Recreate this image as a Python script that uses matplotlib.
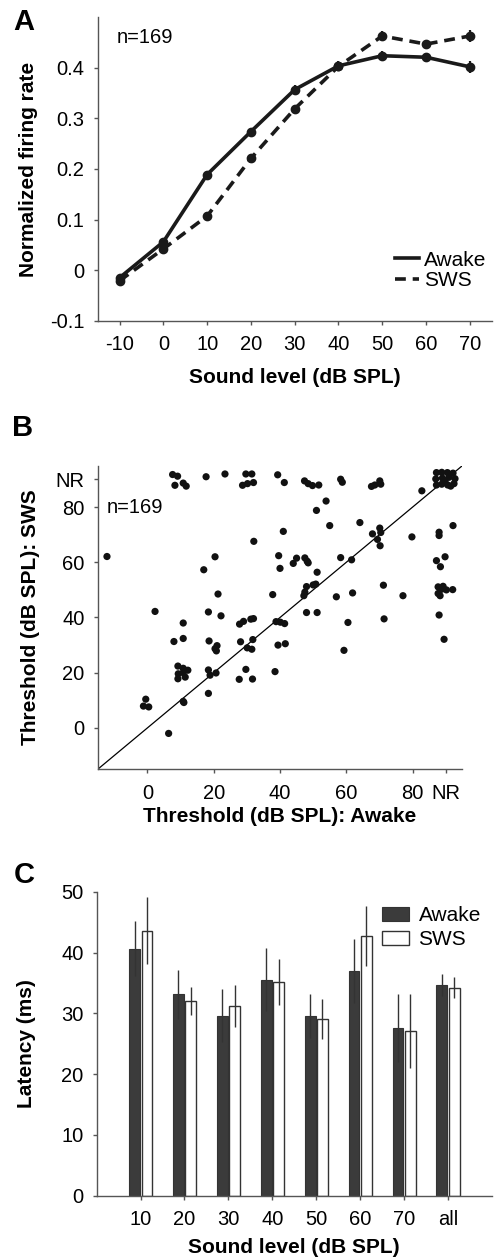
import numpy as np
import matplotlib
matplotlib.use('Agg')
import matplotlib.pyplot as plt
from matplotlib.lines import Line2D

plt.rcParams['font.family'] = ['Liberation Sans', 'DejaVu Sans']

# panel A : rate-level functions
levels = [-10, 0, 10, 20, 30, 40, 50, 60, 70]
awake_rate = [-0.015, 0.056, 0.189, 0.274, 0.357, 0.404, 0.424, 0.421, 0.402]
awake_rate_err = [0.006, 0.006, 0.008, 0.008, 0.009, 0.009, 0.009, 0.009, 0.012]
sws_rate = [-0.021, 0.042, 0.107, 0.221, 0.319, 0.403, 0.463, 0.447, 0.463]
sws_rate_err = [0.006, 0.006, 0.007, 0.008, 0.008, 0.009, 0.009, 0.009, 0.012]

# panel B : thresholds (90 = NR, points jittered as in the figure)
thr_awake = [7.6, 9.1, 8.3, 10.8, 11.7, 17.7, 23.4, 29.7, 31.5, 28.7, 30.2, 32.0,
             39.3, 41.3, 47.4, 48.5, 49.8, 51.7, 58.3, 58.8, 67.6, 68.6, 70.1, 70.4, 82.8,
             87.2, 88.8, 90.5, 92.2, 87.0, 89.0, 91.0, 92.8, 87.2, 88.8, 90.6, 92.5, 89.8, 91.5,
             -12.2, 32.1, 41.0, 20.4, 17.0, 39.6, 40.0, 21.3, 37.8, 53.9, 51.0, 55.0, 64.1,
             67.9, 70.1, 70.4, 69.4, 70.2, 79.8, 88.0, 88.0, 92.2, 45.0, 44.0, 47.5, 48.2,
             48.5, 51.2, 58.3, 61.6, 87.2, 88.4, 89.8, 48.0, 50.0, 50.8, 47.5, 47.2, 57.0,
             61.9, 71.2, 77.1, 87.7, 89.2, 88.7, 87.7, 88.3, 90.2, 92.1, 48.0, 51.2, 60.5,
             71.4, 88.0, 2.3, 18.4, 22.2, 27.8, 29.0, 31.2, 32.0, 38.8, 40.1, 41.4, 10.8,
             8.0, 10.8, 18.6, 21.0, 20.4, 20.8, 28.1, 31.8, 30.1, 31.5, 39.4, 41.6, 59.3,
             89.5, 9.2, 10.8, 12.2, 9.3, 10.8, 9.2, 11.4, 18.4, 20.7, 18.9, 18.4, 10.8,
             11.0, -0.5, -1.2, 0.4, 6.4, 27.7, 31.7, 29.7, 38.5]
thr_sws = [91.8, 91.2, 87.9, 88.7, 87.6, 91.0, 92.0, 92.0, 92.0, 87.9, 88.5, 88.9,
           91.7, 88.9, 89.5, 88.5, 87.8, 88.0, 90.1, 89.0, 87.5, 88.0, 89.5, 88.3, 85.9,
           92.5, 92.6, 92.5, 92.3, 90.2, 90.5, 90.8, 90.3, 88.0, 88.3, 88.0, 88.5, 89.5, 87.6,
           62.1, 67.6, 71.2, 62.0, 57.3, 62.4, 57.8, 48.5, 48.3, 82.2, 78.8, 73.3, 74.4,
           70.3, 72.4, 70.8, 68.3, 66.0, 69.2, 70.9, 69.7, 73.3, 61.5, 59.6, 61.6, 60.4,
           59.8, 56.4, 61.7, 60.9, 60.6, 58.4, 62.0, 51.2, 51.8, 52.1, 49.2, 47.9, 47.5,
           48.9, 51.7, 47.9, 51.1, 51.3, 50.2, 48.7, 47.9, 50.0, 50.1, 41.8, 41.8, 38.2,
           39.5, 40.9, 42.2, 42.0, 40.6, 37.6, 38.6, 39.4, 39.6, 38.5, 38.3, 37.8, 38.0,
           31.3, 32.4, 31.5, 29.8, 28.7, 27.9, 31.2, 32.0, 29.0, 28.5, 30.0, 30.5, 28.1,
           32.1, 22.4, 21.6, 20.9, 19.6, 20.0, 17.8, 18.4, 21.0, 19.9, 19.1, 12.5, 9.6,
           9.2, 10.4, 7.9, 7.6, -2.0, 17.6, 17.7, 21.2, 20.4]

# panel C : latency
lat_labels = ['10', '20', '30', '40', '50', '60', '70', 'all']
lat_awake = [40.6, 33.1, 29.6, 35.5, 29.6, 37.0, 27.6, 34.6]
lat_awake_err = [4.5, 4.0, 4.4, 5.2, 3.6, 5.3, 5.6, 1.8]
lat_sws = [43.6, 32.1, 31.2, 35.1, 29.1, 42.7, 27.1, 34.2]
lat_sws_err = [5.5, 2.3, 3.4, 3.8, 3.3, 4.9, 6.1, 1.7]

W, H = 495, 1257
fig = plt.figure(figsize=(W / 100, H / 100), dpi=100)

TICK = 14.5
LEG = 15
LAB = 15
LETTER = 21
SPINE = '#555555'


def style(ax):
    for s in ['top', 'right']:
        ax.spines[s].set_visible(False)
    for s in ['left', 'bottom']:
        ax.spines[s].set_color(SPINE)
        ax.spines[s].set_linewidth(1.0)
    ax.tick_params(labelsize=TICK, length=3, width=1, color=SPINE)
    ax.tick_params(axis='x', pad=7.5)
    ax.tick_params(axis='y', pad=6.5)


# ---- A
axA = fig.add_axes([97.7 / W, 1 - 320.7 / H, 394 / W, 303.4 / H])
style(axA)
dash = (0, (3.0, 1.9))
axA.errorbar(levels, awake_rate, yerr=awake_rate_err, color='#1a1a1a', lw=2.6,
             marker='o', ms=6, elinewidth=1.6, capsize=0)
axA.errorbar(levels, sws_rate, yerr=sws_rate_err, color='#1a1a1a', lw=2.6,
             ls=dash, marker='o', ms=6, elinewidth=1.6, capsize=0)
axA.set_xlim(-15, 75)
axA.set_ylim(-0.1, 0.5)
axA.set_xticks(levels)
axA.set_yticks([-0.1, 0, 0.1, 0.2, 0.3, 0.4])
axA.set_yticklabels(['-0.1', '0', '0.1', '0.2', '0.3', '0.4'])
axA.set_xticklabels([str(v) for v in levels])
axA.set_xlabel('Sound level (dB SPL)', fontsize=LAB, fontweight='bold', labelpad=10)
axA.set_ylabel('Normalized firing rate', fontsize=LAB, fontweight='bold', labelpad=9)
axA.text(0.049, 0.935, 'n=169', transform=axA.transAxes, fontsize=TICK,
         va='center', ha='left')
axA.text(-0.215, 0.983, 'A', transform=axA.transAxes, fontsize=LETTER, fontweight='bold',
         va='center', ha='left')
handles = [Line2D([], [], color='#1a1a1a', lw=2.6),
           Line2D([], [], color='#1a1a1a', lw=2.6, ls=dash)]
axA.legend(handles, ['Awake', 'SWS'], loc='lower right', bbox_to_anchor=(1.035, 0.04),
           frameon=False, fontsize=LEG, handlelength=1.15, handletextpad=0.25,
           labelspacing=0.05)

# ---- B
axB = fig.add_axes([97.7 / W, 1 - 769.3 / H, 364.6 / W, 303.6 / H])
style(axB)
axB.plot([-15, 95], [-15, 95], color='black', lw=0.9)
axB.scatter(thr_awake, thr_sws, s=27, color='#111111', edgecolors='none', zorder=3)
axB.set_xlim(-15, 95)
axB.set_ylim(-15, 95)
axB.set_xticks([0, 20, 40, 60, 80, 90])
axB.set_xticklabels(['0', '20', '40', '60', '80', 'NR'])
axB.set_yticks([0, 20, 40, 60, 80, 90])
axB.set_yticklabels(['0', '20', '40', '60', '80', 'NR'])
axB.set_xlabel('Threshold (dB SPL): Awake', fontsize=LAB, fontweight='bold', labelpad=3)
axB.set_ylabel('Threshold (dB SPL): SWS', fontsize=LAB, fontweight='bold', labelpad=11)
axB.text(0.025, 80, 'n=169', transform=axB.get_yaxis_transform(), fontsize=TICK,
         va='center', ha='left')
axB.text(-0.235, 1.124, 'B', transform=axB.transAxes, fontsize=LETTER, fontweight='bold',
         va='center', ha='left')

# ---- C
axC = fig.add_axes([96.7 / W, 1 - 1195.7 / H, 395 / W, 304 / H])
style(axC)
xc = np.arange(len(lat_labels))
bw = 0.245
axC.bar(xc - 0.137, lat_awake, bw, color='#3b3b3b', edgecolor='#333333', lw=0.8,
        label='Awake')
axC.bar(xc + 0.144, lat_sws, bw, color='white', edgecolor='#333333', lw=1.0,
        label='SWS')
axC.errorbar(xc - 0.137, lat_awake, yerr=lat_awake_err, fmt='none', ecolor='#333333',
             elinewidth=1.0, capsize=0)
axC.errorbar(xc + 0.144, lat_sws, yerr=lat_sws_err, fmt='none', ecolor='#333333',
             elinewidth=1.0, capsize=0)
axC.set_xlim(-1, 8)
axC.set_ylim(0, 50)
axC.set_xticks(xc)
axC.set_xticklabels(lat_labels)
axC.set_yticks([0, 10, 20, 30, 40, 50])
axC.set_xlabel('Sound level (dB SPL)', fontsize=LAB, fontweight='bold', labelpad=6)
axC.set_ylabel('Latency (ms)', fontsize=LAB, fontweight='bold', labelpad=18)
axC.text(-0.21, 1.055, 'C', transform=axC.transAxes, fontsize=LETTER, fontweight='bold',
         va='center', ha='left')
axC.legend(loc='upper right', bbox_to_anchor=(1.02, 1.015), frameon=False, fontsize=LEG,
           handlelength=1.3, handleheight=0.65, handletextpad=0.45, labelspacing=0.25)

fig.savefig('out.png', dpi=100)
